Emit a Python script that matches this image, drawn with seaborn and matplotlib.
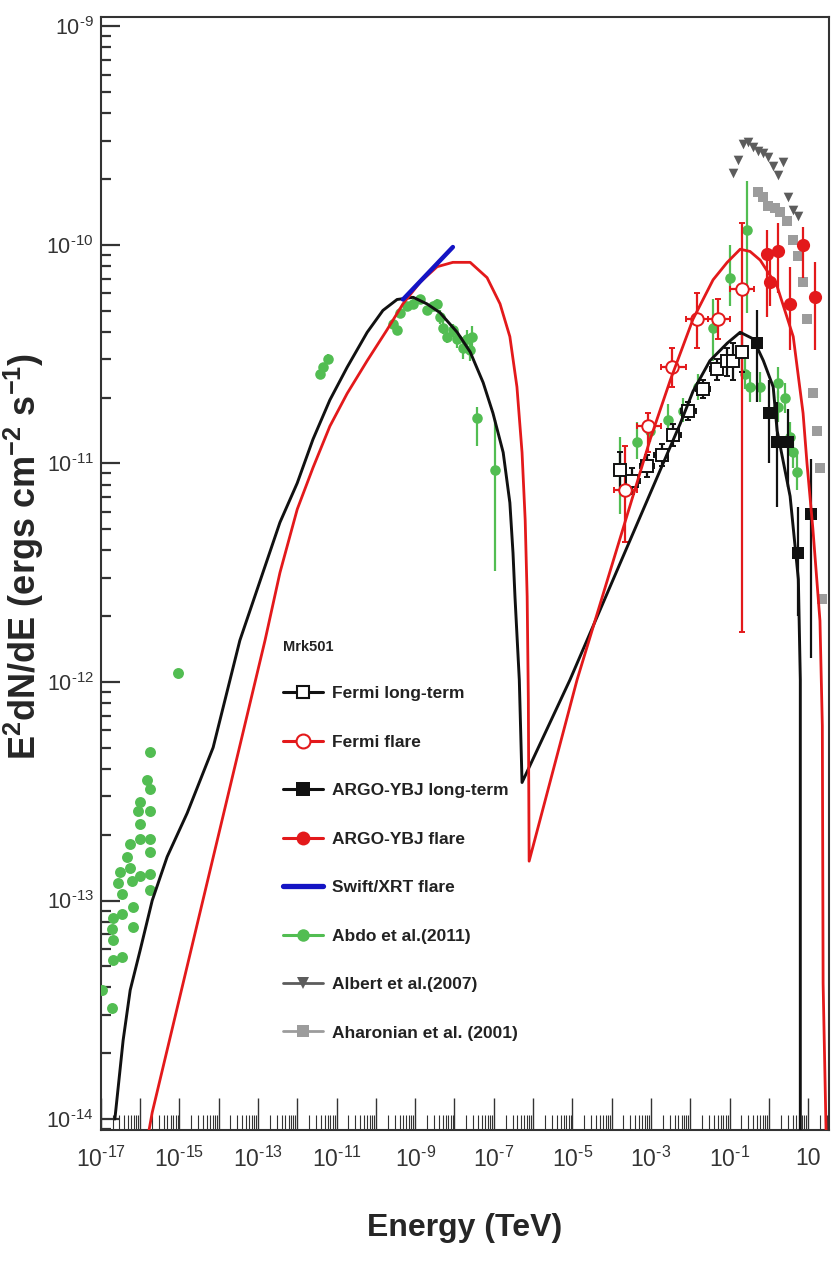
import matplotlib
matplotlib.use("Agg")
import numpy as np
import pandas as pd
import matplotlib.pyplot as plt
import seaborn as sns
from matplotlib import font_manager
from matplotlib.lines import Line2D
from matplotlib.ticker import FixedLocator, FuncFormatter, NullFormatter

# ------------------------------------------------------------------
# Mrk501 spectral energy distribution.
# All values are log10: energy in TeV, E^2 dN/dE in erg cm^-2 s^-1.
# ------------------------------------------------------------------

# SSC model, long-term state
lt_model_logE = [-16.64, -16.43, -16.25, -16.00, -15.69, -15.31, -14.80, -14.14, -13.46,
                 -12.44, -12.00, -11.60, -11.17, -10.73, -10.22, -9.82, -9.46, -9.05,
                 -8.70, -8.37, -7.93, -7.60, -7.27, -7.02, -6.76, -6.59, -6.51, -6.46,
                 -6.35, -6.28, -5.06, -2.26, -1.93, -1.50, -1.06, -0.73, -0.40, -0.14,
                 0.11, 0.21, 0.54, 0.75, 0.80, 0.80]
lt_model_logF = [-14.00, -13.64, -13.41, -13.23, -13.00, -12.80, -12.60, -12.30, -11.81,
                 -11.27, -11.09, -10.89, -10.71, -10.56, -10.40, -10.30, -10.25, -10.24,
                 -10.27, -10.31, -10.40, -10.49, -10.63, -10.77, -10.95, -11.18, -11.41, -11.61,
                 -11.99, -12.46, -11.99, -10.82, -10.67, -10.53, -10.45, -10.40, -10.43, -10.53,
                 -10.65, -10.85, -11.15, -11.53, -11.99, -15.00]

# SSC model, flare state
fl_model_logE = [-15.80, -15.69, -12.82, -12.44, -12.00, -11.60, -11.17, -10.73, -10.22,
                 -9.72, -9.31, -8.87, -8.44, -8.04, -7.60, -7.17, -6.84, -6.59, -6.41,
                 -6.28, -6.20, -6.15, -6.12, -6.10, -4.88, -3.02, -2.51, -1.93, -1.42,
                 -1.06, -0.73, -0.48, -0.22, 0.21, 0.62, 0.87, 0.97, 1.12, 1.30, 1.36,
                 1.38, 1.46]
fl_model_logF = [-14.08, -13.97, -11.81, -11.50, -11.21, -11.02, -10.83, -10.68, -10.53,
                 -10.39, -10.27, -10.17, -10.10, -10.08, -10.08, -10.15, -10.27, -10.42, -10.65,
                 -10.95, -11.26, -11.61, -12.08, -12.82, -11.99, -10.89, -10.62, -10.34, -10.16,
                 -10.08, -10.02, -10.03, -10.07, -10.19, -10.42, -10.77, -11.00, -11.30, -11.72, -12.20,
                 -13.38, -14.10]

# Swift/XRT flare spectrum
swift_logE = [-9.31, -8.04]
swift_logF = [-10.25, -10.01]

# Fermi long-term
fermi_lt_logE = [-3.78, -3.48, -3.10, -2.72, -2.43, -2.05, -1.67, -1.31, -1.06, -0.91, -0.68]
fermi_lt_logE_lo = [-3.95, -3.63, -3.29, -2.91, -2.57, -2.24, -1.86, -1.49, -1.18, -0.98, -0.80]
fermi_lt_logE_hi = [-3.63, -3.29, -2.91, -2.57, -2.24, -1.86, -1.49, -1.18, -0.98, -0.80, -0.56]
fermi_lt_logF = [-11.03, -11.08, -11.01, -10.96, -10.87, -10.76, -10.66, -10.57, -10.53, -10.53, -10.49]
fermi_lt_logF_lo = [-11.12, -11.14, -11.06, -11.01, -10.92, -10.80, -10.70, -10.62, -10.60, -10.62, -10.58]
fermi_lt_logF_hi = [-10.95, -11.02, -10.96, -10.91, -10.82, -10.72, -10.62, -10.52, -10.47, -10.45, -10.41]

# Fermi flare
fermi_fl_logE = [-3.66, -3.07, -2.46, -1.82, -1.29, -0.68]
fermi_fl_logE_lo = [-3.95, -3.35, -2.75, -2.12, -1.55, -0.98]
fermi_fl_logE_hi = [-3.35, -2.75, -2.12, -1.55, -0.98, -0.38]
fermi_fl_logF = [-11.12, -10.83, -10.56, -10.34, -10.34, -10.20]
fermi_fl_logF_lo = [-11.36, -10.95, -10.65, -10.47, -10.43, -11.77]
fermi_fl_logF_hi = [-10.92, -10.77, -10.47, -10.22, -10.25, -9.90]

# ARGO-YBJ long-term
argo_lt_logE = [-0.30, 0.01, 0.21, 0.49, 0.75, 1.07]
argo_lt_logF = [-10.45, -10.77, -10.90, -10.90, -11.41, -11.23]
argo_lt_logF_lo = [-10.72, -11.00, -11.20, -11.11, -11.70, -11.89]
argo_lt_logF_hi = [-10.30, -10.62, -10.72, -10.75, -11.20, -10.98]

# ARGO-YBJ flare
argo_fl_logE = [-0.04, 0.03, 0.24, 0.54, 0.87, 1.18]
argo_fl_logF = [-10.04, -10.17, -10.03, -10.27, -10.00, -10.24]
argo_fl_logF_lo = [-10.33, -10.28, -10.22, -10.48, -10.15, -10.48]
argo_fl_logF_hi = [-9.93, -10.07, -9.90, -10.10, -9.92, -10.08]

# Abdo et al. (2011): radio / optical / UV
abdo_low_logE = [-15.03, -15.75, -15.82, -15.75, -16.00, -16.05, -15.75, -16.00, -15.75,
                 -16.25, -16.00, -15.75, -16.33, -16.25, -16.51, -16.00, -15.75, -16.56,
                 -16.20, -15.75, -16.46, -16.18, -16.69, -16.46, -16.71, -16.18, -16.69,
                 -16.69, -16.46, -16.97, -16.71]
abdo_low_logF = [-11.96, -12.32, -12.45, -12.49, -12.55, -12.59, -12.59, -12.65, -12.72,
                 -12.74, -12.72, -12.78, -12.80, -12.85, -12.87, -12.89, -12.88, -12.92,
                 -12.91, -12.95, -12.97, -13.03, -13.08, -13.06, -13.13, -13.12, -13.18,
                 -13.27, -13.26, -13.41, -13.49]

# Abdo et al. (2011): X-ray
abdo_x_logE = [-11.42, -11.34, -11.21, -9.56, -9.46, -9.38, -9.21, -9.05, -8.87, -8.70,
               -8.54, -8.44, -8.37, -8.29, -8.19, -8.04, -7.93, -7.78, -7.68, -7.60, -7.55,
               -7.42, -6.97]
abdo_x_logF = [-10.59, -10.56, -10.52, -10.36, -10.39, -10.31, -10.28, -10.27, -10.25, -10.30,
               -10.28, -10.27, -10.33, -10.38, -10.42, -10.39, -10.43, -10.47, -10.43, -10.48, -10.42,
               -10.79, -11.03]
abdo_x_logF_lo = [-10.61, -10.58, -10.54, -10.38, -10.41, -10.33, -10.30, -10.29, -10.27, -10.32,
                  -10.30, -10.29, -10.36, -10.41, -10.45, -10.42, -10.47, -10.52, -10.47, -10.53, -10.47,
                  -10.92, -11.49]
abdo_x_logF_hi = [-10.57, -10.54, -10.50, -10.34, -10.37, -10.29, -10.26, -10.25, -10.23, -10.28,
                  -10.26, -10.25, -10.30, -10.35, -10.39, -10.36, -10.39, -10.42, -10.39, -10.44, -10.37,
                  -10.74, -10.80]

# Abdo et al. (2011): gamma rays
abdo_g_logE = [-3.78, -3.35, -3.02, -2.56, -2.18, -1.80, -1.42, -0.99, -0.55, -0.60,
               -0.48, -0.22, 0.24, 0.24, 0.41, 0.54, 0.62, 0.72]
abdo_g_logF = [-11.02, -10.90, -10.85, -10.80, -10.76, -10.65, -10.38, -10.15, -9.93, -10.59,
               -10.65, -10.65, -10.63, -10.74, -10.70, -10.88, -10.95, -11.04]
abdo_g_logF_lo = [-11.23, -10.98, -10.90, -10.86, -10.81, -10.71, -10.53, -10.28, -10.31, -10.66,
                  -10.72, -10.72, -10.70, -10.81, -10.77, -10.95, -11.02, -11.12]
abdo_g_logF_hi = [-10.88, -10.81, -10.80, -10.73, -10.70, -10.59, -10.25, -10.00, -9.71, -10.52,
                  -10.58, -10.58, -10.56, -10.67, -10.63, -10.81, -10.88, -10.96]

# Albert et al. (2007)
albert_logE = [-0.91, -0.78, -0.65, -0.53, -0.40, -0.27, -0.14, -0.02, 0.11, 0.24, 0.36,
               0.49, 0.62, 0.75]
albert_logF = [-9.67, -9.61, -9.54, -9.53, -9.55, -9.57, -9.58, -9.60, -9.64, -9.68, -9.62,
               -9.78, -9.84, -9.87]

# Aharonian et al. (2001)
aharonian_logE = [-0.27, -0.14, -0.02, 0.16, 0.29, 0.46, 0.62, 0.75, 0.87, 0.97, 1.12, 1.23,
                  1.30, 1.35]
aharonian_logF = [-9.76, -9.78, -9.82, -9.83, -9.85, -9.89, -9.98, -10.05, -10.17, -10.34,
                  -10.68, -10.85, -11.02, -11.62]

legend_labels = ["Fermi long-term", "Fermi flare", "ARGO-YBJ long-term", "ARGO-YBJ flare",
                 "Swift/XRT flare", "Abdo et al.(2011)", "Albert et al.(2007)",
                 "Aharonian et al. (2001)"]
source_name = "Mrk501"
x_label = "Energy (TeV)"
y_label = r"$\mathbf{E^{2}dN/dE\ (ergs\ cm^{-2}\ s^{-1})}$"

# ------------------------------------------------------------------
sns.set_theme(style="ticks")
available = {f.name for f in font_manager.fontManager.ttflist}
NARROW = "Liberation Sans Narrow" if "Liberation Sans Narrow" in available else "Liberation Sans"
WIDE = "Liberation Sans"
plt.rcParams.update({
    "font.family": [NARROW, "DejaVu Sans"],
    "mathtext.fontset": "custom",
    "mathtext.rm": NARROW,
    "mathtext.it": NARROW + ":italic",
    "mathtext.bf": WIDE + ":bold",
    "axes.unicode_minus": False,
    "axes.edgecolor": "#333333",
    "axes.linewidth": 1.5,
    "xtick.color": "#333333",
    "ytick.color": "#333333",
    "text.color": "#222222",
})

GREEN = "#52bd52"
RED = "#e3191b"
BLACK = "#111111"
BLUE = "#1414c4"
DGRAY = "#5c5c5c"
LGRAY = "#9c9c9c"


def p10(a):
    return np.power(10.0, np.asarray(a, dtype=float))


fig = plt.figure(figsize=(8.31, 12.62), dpi=100)
ax = fig.add_axes([0.1212, 0.1046, 0.8764, 0.8820])
ax.set_xscale("log")
ax.set_yscale("log")
ax.set_xlim(1e-17, p10(1.53))
ax.set_ylim(p10(-14.05), p10(-8.957))


def errpoints(logE, logF, lo, hi, xlo=None, xhi=None, **kw):
    E, F = p10(logE), p10(logF)
    yerr = [F - p10(lo), p10(hi) - F]
    xerr = None if xlo is None else [E - p10(xlo), p10(xhi) - E]
    ax.errorbar(E, F, yerr=yerr, xerr=xerr, linestyle="none", elinewidth=1.6,
                capsize=2.5, capthick=1.4, **kw)


# --- data points ---
abdo_low = pd.DataFrame({"E": p10(abdo_low_logE), "F": p10(abdo_low_logF)})
sns.scatterplot(data=abdo_low, x="E", y="F", ax=ax, color=GREEN, s=62, linewidth=0,
                marker="o", zorder=3, legend=False)
errpoints(abdo_x_logE, abdo_x_logF, abdo_x_logF_lo, abdo_x_logF_hi, fmt="o", color=GREEN,
          ms=7.6, mew=0, zorder=3)
errpoints(abdo_g_logE, abdo_g_logF, abdo_g_logF_lo, abdo_g_logF_hi, fmt="o", color=GREEN,
          ms=7.6, mew=0, zorder=3)

albert = pd.DataFrame({"E": p10(albert_logE), "F": p10(albert_logF)})
sns.scatterplot(data=albert, x="E", y="F", ax=ax, color=DGRAY, s=48, marker="v",
                linewidth=0, zorder=3, legend=False)
aharonian = pd.DataFrame({"E": p10(aharonian_logE), "F": p10(aharonian_logF)})
sns.scatterplot(data=aharonian, x="E", y="F", ax=ax, color=LGRAY, s=55, marker="s",
                linewidth=0, zorder=3, legend=False)

errpoints(fermi_lt_logE, fermi_lt_logF, fermi_lt_logF_lo, fermi_lt_logF_hi,
          fermi_lt_logE_lo, fermi_lt_logE_hi, fmt="s", color=BLACK, mfc="white",
          mec=BLACK, ms=8, mew=1.4, zorder=4)
errpoints(fermi_fl_logE, fermi_fl_logF, fermi_fl_logF_lo, fermi_fl_logF_hi,
          fermi_fl_logE_lo, fermi_fl_logE_hi, fmt="o", color=RED, mfc="white",
          mec=RED, ms=9, mew=1.4, zorder=4)
errpoints(argo_lt_logE, argo_lt_logF, argo_lt_logF_lo, argo_lt_logF_hi, fmt="s",
          color=BLACK, ms=8.5, mew=0, zorder=4)
errpoints(argo_fl_logE, argo_fl_logF, argo_fl_logF_lo, argo_fl_logF_hi, fmt="o",
          color=RED, ms=9.5, mew=0, zorder=4)

# --- model curves ---
lt_model = pd.DataFrame({"E": p10(lt_model_logE), "F": p10(lt_model_logF)})
fl_model = pd.DataFrame({"E": p10(fl_model_logE), "F": p10(fl_model_logF)})
sns.lineplot(data=lt_model, x="E", y="F", ax=ax, sort=False, estimator=None,
             color=BLACK, lw=2.1, zorder=5)
sns.lineplot(data=fl_model, x="E", y="F", ax=ax, sort=False, estimator=None,
             color=RED, lw=2.0, zorder=5)
swift = pd.DataFrame({"E": p10(swift_logE), "F": p10(swift_logF)})
sns.lineplot(data=swift, x="E", y="F", ax=ax, sort=False, estimator=None,
             color=BLUE, lw=3.2, zorder=6)

# --- axes styling ---
sns.despine(ax=ax, top=False, right=False)
ax.xaxis.set_major_locator(FixedLocator(p10(np.arange(-17, 2))))
ax.xaxis.set_minor_locator(FixedLocator(
    [m * 10.0 ** e for e in range(-17, 2) for m in range(2, 10)]))
ax.yaxis.set_major_locator(FixedLocator(p10(np.arange(-14, -8))))
ax.yaxis.set_minor_locator(FixedLocator(
    [m * 10.0 ** e for e in range(-15, -8) for m in range(2, 10)]))

HYPHEN = "\u2010"


def power_label(e):
    sign = HYPHEN if e < 0 else ""
    return r"$\mathregular{10^{%s%d}}$" % (sign, abs(e))


def xfmt(v, pos):
    e = int(round(np.log10(v)))
    if e % 2 == 0:
        return ""
    return "10" if e == 1 else power_label(e)


def yfmt(v, pos):
    return power_label(int(round(np.log10(v))))


ax.xaxis.set_major_formatter(FuncFormatter(xfmt))
ax.yaxis.set_major_formatter(FuncFormatter(yfmt))
ax.xaxis.set_minor_formatter(NullFormatter())
ax.yaxis.set_minor_formatter(NullFormatter())

ax.tick_params(axis="both", which="both", direction="in", top=False, right=False)
ax.tick_params(axis="x", which="major", length=23, width=1.0, pad=12, labelsize=16.5)
ax.tick_params(axis="x", which="minor", length=11, width=0.8)
ax.tick_params(axis="y", which="major", length=14, width=1.6, pad=5, labelsize=15.5)
ax.tick_params(axis="y", which="minor", length=7.5, width=1.6)

ax.set_xlabel(x_label, fontsize=23, fontweight="bold", family=[NARROW, "DejaVu Sans"])
ax.xaxis.set_label_coords(0.5, -0.088)
ax.xaxis.label.set_verticalalignment("center")
ax.set_ylabel(y_label, fontsize=26)
ax.yaxis.set_label_coords(-0.106, 0.515)
ax.yaxis.label.set_verticalalignment("center")

# --- legend ---
handles = [
    Line2D([], [], color=BLACK, lw=2.2, marker="s", mfc="white", mec=BLACK, ms=9, mew=1.5),
    Line2D([], [], color=RED, lw=2.2, marker="o", mfc="white", mec=RED, ms=10, mew=1.5),
    Line2D([], [], color=BLACK, lw=2.2, marker="s", ms=9.5, mew=0),
    Line2D([], [], color=RED, lw=2.2, marker="o", ms=10, mew=0),
    Line2D([], [], color=BLUE, lw=3.8),
    Line2D([], [], color=GREEN, lw=2.2, marker="o", ms=9, mew=0),
    Line2D([], [], color=DGRAY, lw=2.0, marker="v", ms=8, mew=0),
    Line2D([], [], color=LGRAY, lw=2.0, marker="s", ms=8, mew=0),
]
leg = ax.legend(handles, legend_labels, loc="upper left",
                bbox_to_anchor=(283 / 831, 1 - 686 / 1262), bbox_transform=fig.transFigure,
                frameon=False, fontsize=12.5, handlelength=2.3, handletextpad=0.55,
                labelspacing=1.92, borderpad=0, borderaxespad=0)
for t in leg.get_texts():
    t.set_fontweight("bold")
fig.text(283 / 831, 1 - 647 / 1262, source_name, fontsize=10.5, fontweight="bold",
         ha="left", va="center")

fig.savefig("out.png", dpi=100)
